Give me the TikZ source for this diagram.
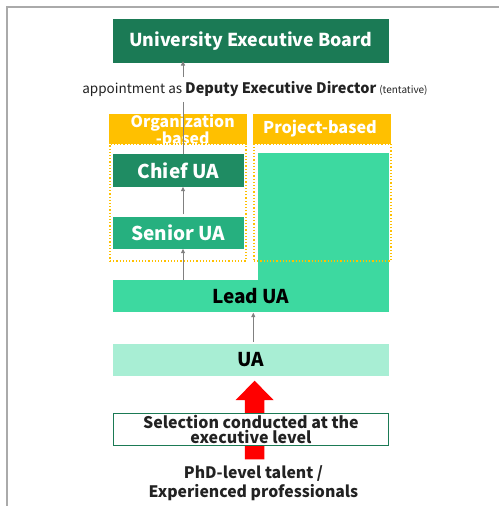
\documentclass[tikz,border=0pt]{standalone}
\usepackage{fontspec}
\setmainfont{Noto Sans CJK JP}
\usetikzlibrary{arrows.meta,calc}
\definecolor{uebgreen}{HTML}{1B7A55}
\definecolor{chiefgreen}{HTML}{1F8C63}
\definecolor{seniorgreen}{HTML}{26B07F}
\definecolor{leadgreen}{HTML}{3DD9A0}
\definecolor{uagreen}{HTML}{A8EED4}
\definecolor{headyellow}{HTML}{FFC000}
\definecolor{framegray}{HTML}{AAAAAA}
\definecolor{arrowgray}{HTML}{808080}
\definecolor{textdark}{HTML}{222222}
\begin{document}
\begin{tikzpicture}[x=1pt,y=-1pt,
  box/.style={rectangle, inner sep=0pt, outer sep=0pt, anchor=north west, align=center, font=\bfseries},
  header/.style={box, fill=headyellow},
  headtext/.style={inner sep=0pt, align=center, text=white, font=\bfseries\fontsize{15.8}{13.8}\selectfont},
  dotbox/.style={draw=headyellow, line width=1.2pt, dotted},
  uparrow/.style={draw=arrowgray, line width=1pt, -{Triangle[length=4.5pt,width=4pt]}},
  plainline/.style={draw=arrowgray, line width=1pt},
  bigtext/.style={font=\bfseries\fontsize{19}{19}\selectfont}]
\useasboundingbox (0,0) rectangle (499,506);
% frame
\draw[framegray, line width=1.5pt] (7,506) -- (7,7) -- (499,7);
% top board
\node[box, fill=uebgreen, text=white, minimum width=275.5pt, minimum height=43.5pt,
  font=\bfseries\fontsize{17.8}{17}\selectfont] (ueb) at (113,19) {University Executive Board};
% appointment text
\node[inner sep=0pt, text=textdark, font=\fontsize{13.5}{13}\selectfont] (appt) at (255,89)
  {appointment as \textbf{\fontsize{14.5}{13}\selectfont Deputy Executive Director} {\fontsize{10}{10}\selectfont(tentative)}};
% headers
\node[header, minimum width=137.5pt, minimum height=30pt] (orghead) at (109,114) {};
\node[header, minimum width=138pt, minimum height=30pt] (projhead) at (253,114) {};
\node[headtext] (orgtext) at (182.7,129.5) {Organization\\-based};
\node[headtext, font=\bfseries\fontsize{16.2}{14}\selectfont] (projtext) at (320,128.5) {Project-based};
% project area + lead
\node[box, fill=leadgreen, minimum width=130.8pt, minimum height=140pt] (projarea) at (257.7,153.3) {};
\node[box, fill=leadgreen, minimum width=275.5pt, minimum height=31.7pt, text=black,
  bigtext] (lead) at (113,280) {Lead UA};
% chief / senior
\node[box, fill=chiefgreen, text=white, minimum width=131.3pt, minimum height=32.7pt,
  bigtext] (chief) at (112.7,154) {Chief UA};
\node[box, fill=seniorgreen, text=white, minimum width=131.3pt, minimum height=31.4pt,
  bigtext] (senior) at (112.7,217.3) {Senior UA};
% dotted containers
\node[box, dotbox, minimum width=136pt, minimum height=117pt] (orgbox) at (110,144) {};
\node[box, dotbox, minimum width=137pt, minimum height=117pt] (projbox) at (254,144) {};
% UA
\node[box, fill=uagreen, text=black, minimum width=275.5pt, minimum height=32pt,
  bigtext] (ua) at (113,344) {UA};
% red arrow
\coordinate (rx) at (254.6,0);
\coordinate (redbot) at ($(rx)+(0,459.3)$);
\coordinate (redtip) at ($(ua.south -| rx)+(0,4.7)$);
\fill[red] ($(redbot)+(-9.7,0)$) -- ($(redtip)+(-9.7,19.3)$) -- ($(redtip)+(-18.9,19.3)$)
  -- (redtip) -- ($(redtip)+(18.9,19.3)$) -- ($(redtip)+(9.7,19.3)$) -- ($(redbot)+(9.7,0)$) -- cycle;
% selection box
\node[box, draw=uebgreen, line width=1.3pt, fill=white, text=textdark, minimum width=275pt, minimum height=32.5pt,
  font=\bfseries\fontsize{16}{14.5}\selectfont] (sel) at (113.4,413.2) {Selection conducted at the\\executive level};
% bottom text
\node[inner sep=0pt, align=center, text=textdark, font=\bfseries\fontsize{15.8}{19.3}\selectfont] (talent) at (253.5,483.5)
  {PhD-level talent /\\Experienced professionals};
% gray connectors
\coordinate (ax) at (183,0);
\coordinate (bx) at (253.3,0);
\draw[uparrow] ($(appt.north -| ax)+(0,-4)$) -- ($(ueb.south -| ax)+(0,-1.5)$);
\draw[plainline] ($(appt.south -| ax)+(0,5)$) -- (chief.north -| ax);
\draw[uparrow] ($(senior.north -| ax)+(0,-3)$) -- ($(chief.south -| ax)$);
\draw[uparrow] (lead.north -| ax) -- (senior.south -| ax);
\draw[uparrow] ($(ua.north -| bx)+(0,-2.3)$) -- ($(lead.south -| bx)+(0,1)$);
\end{tikzpicture}
\end{document}
